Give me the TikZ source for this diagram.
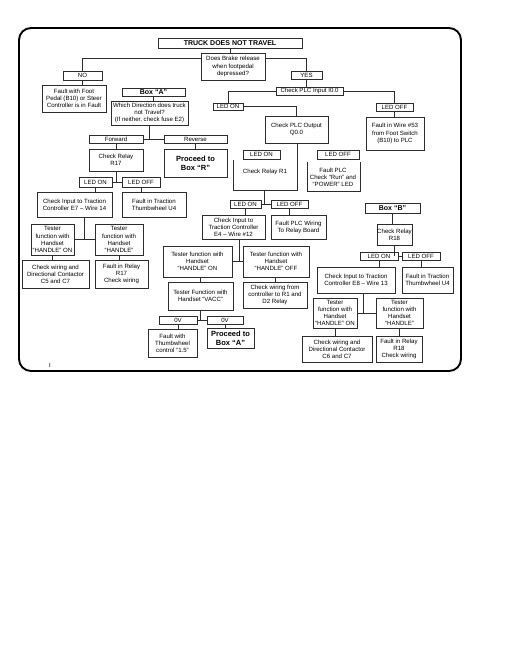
\documentclass[tikz,border=0pt]{standalone}
\usepackage{fontspec}
\setmainfont{Liberation Sans}
\definecolor{lc}{RGB}{45,45,45}
\tikzset{
  bx/.style={draw=lc, line width=0.75pt, inner sep=0pt, align=center, fill=white,
             font=\fontsize{6.1}{7.1}\selectfont},
  bt/.style={font=\bfseries\fontsize{7}{8.4}\selectfont},
  bp/.style={font=\bfseries\fontsize{7.5}{9}\selectfont},
  ln/.style={draw=lc, line width=0.75pt},
  tx/.style={inner sep=0pt, align=center, font=\fontsize{6.1}{7.1}\selectfont},
}
\newcommand\mybox[7][]{\node[bx,#1,minimum width={#5-#3},minimum height={#6-#4}] (#2) at ({(#3+#5)/2},{(#4+#6)/2}) {#7};}
\begin{document}
\begin{tikzpicture}[x=1pt,y=-1pt]
\useasboundingbox (0,0) rectangle (510,660);
% frame
\draw[line width=1.9pt, rounded corners=12pt] (19,28) rectangle (461,371);
\node[inner sep=0pt, font=\fontsize{6}{6}\selectfont] (mk) at (50,365) {I};

% top
\mybox[bt]{title}{158}{38}{302}{48}{TRUCK DOES NOT TRAVEL}
\mybox{dob}{201}{53}{265}{80}{Does Brake release\\when footpedal\\depressed?}
\mybox{no}{63}{71}{102}{80}{NO}
\mybox{ffp}{42}{85}{106}{112}{Fault with Foot\\Pedal (B10) or Steer\\Controller is in Fault}
\mybox{yes}{291}{71}{322}{79}{YES}
\mybox{cpi}{276}{87}{343}{95}{Check PLC Input I0.0}

% left column
\mybox[bt]{boxa}{122}{88}{185}{96}{Box “A”}
\mybox{wd}{111}{101}{188}{125}{Which Direction does truck\\not Travel?\\(If neither, check fuse E2)}
\mybox{fwd}{89}{135}{143}{143}{Forward}
\mybox{rev}{164}{135}{227}{143}{Reverse}
\mybox{r17}{89}{149}{143}{171}{Check Relay\\R17}
\mybox[bp]{pbr}{164}{149}{227}{177}{Proceed to\\Box “R”}
\mybox{lon1}{79}{177}{112}{187}{LED ON}
\mybox{loff1}{122}{177}{160}{187}{LED OFF}
\mybox{ci7}{37}{192}{112}{217}{Check Input to Traction\\Controller E7 – Wire 14}
\mybox{ftu1}{122}{192}{186}{217}{Fault in Traction\\Thumbwheel U4}
\mybox{th1}{31}{224}{74}{255}{Tester\\function with\\Handset\\“HANDLE” ON}
\mybox{th2}{95}{224}{143}{255}{Tester\\function with\\Handset\\“HANDLE”}
\mybox{cw1}{22}{260}{89}{288}{Check wiring and\\Directional Contactor\\C5 and C7}
\mybox{fr17}{95}{260}{148}{288}{Fault in Relay\\R17\\Check wiring}

% middle column
\mybox{ledon}{213}{103}{243}{110}{LED ON}
\mybox{ledoff}{376}{103}{413}{111}{LED OFF}
\mybox{fw53}{366}{117}{424}{150}{Fault in Wire \#53\\from Foot Switch\\(B10) to PLC}
\mybox{cpo}{265}{116}{328}{143}{Check PLC Output\\Q0.0}
\mybox{lon2}{243}{150}{280}{159}{LED ON}
\mybox{loff2}{317}{150}{359}{159}{LED OFF}
\node[tx] (r1t) at (265,172) {Check Relay R1};
\node[tx] (fpt) at (333,177) {Fault PLC\\Check “Run” and\\“POWER” LED};
\mybox{lon3}{230}{200}{261}{208}{LED ON}
\mybox{loff3}{271}{200}{308}{208}{LED OFF}
\mybox{ci4}{202}{215}{265}{239}{Check Input to\\Traction Controller\\E4 – Wire \#12}
\mybox{fplc}{271}{215}{326}{239}{Fault PLC Wiring\\To Relay Board}
\mybox{th3}{163}{246}{232}{277}{Tester function with\\Handset\\“HANDLE” ON}
\mybox{th4}{243}{246}{309}{277}{Tester function with\\Handset\\“HANDLE” OFF}
\mybox{vacc}{168}{282}{233}{310}{Tester Function with\\Handset “VACC”}
\mybox{cwr1}{243}{282}{307}{308}{Check wiring from\\controller to R1 and\\D2 Relay}
\mybox{ov1}{159}{316}{197}{324}{0V}
\mybox{ov2}{207}{316}{243}{324}{0V}
\mybox{ftc}{148}{329}{197}{357}{Fault with\\Thumbwheel\\control “1.5”}
\mybox[bp]{pba}{207}{328}{254}{348}{Proceed to\\Box “A”}

% right column
\mybox[bt]{boxb}{365}{203}{420}{213}{Box “B”}
\mybox{r18}{377}{224}{412}{245}{Check Relay\\R18}
\mybox{lon4}{360}{252}{398}{260}{LED ON}
\mybox{loff4}{402}{252}{440}{260}{LED OFF}
\mybox{ci8}{317}{267}{395}{293}{Check Input to Traction\\Controller E8 – Wire 13}
\mybox{ftu2}{402}{267}{453}{293}{Fault in Traction\\Thumbwheel U4}
\mybox{th5}{313}{298}{357}{328}{Tester\\function with\\Handset\\“HANDLE” ON}
\mybox{th6}{376}{298}{423}{328}{Tester\\function with\\Handset\\“HANDLE”}
\mybox{cw2}{302}{336}{372}{362}{Check wiring and\\Directional Contactor\\C6 and C7}
\mybox{fr18}{376}{336}{422}{362}{Fault in Relay\\R18\\Check wiring}

% helper coordinates
\coordinate (j58) at (0,58);
\coordinate (j7) at (84,0);
\coordinate (j4) at (239,0);
\coordinate (j8) at (363,0);
\coordinate (r1tl) at (233,160);
\coordinate (r1bl) at (233,190);
\coordinate (r1br) at (297,190);
\coordinate (r1m) at (264,190);
\coordinate (fptl) at (307,162);
\coordinate (fpbl) at (307,191);
\coordinate (fpbr) at (360,191);
\coordinate (fptr) at (360,162);

% connectors top
\draw[ln] (title.south) -- (title.south |- dob.north);
\draw[ln] (dob.west |- j58) -| (no.north);
\draw[ln] (dob.east |- j58) -| (yes.north);
\draw[ln] (no.south) -- (no.south |- ffp.north);
\draw[ln] (yes.south) -- (yes.south |- cpi.north);
\draw[ln] (cpi.west) -| (ledon.north);
\draw[ln] (cpi.east) -| (ledoff.north);
\draw[ln] (ledoff.south) -- (ledoff.south |- fw53.north);
\draw[ln] (ledon.east) -| (cpo.north);

% left column connectors
\draw[ln] (boxa.south) -- (boxa.south |- wd.north);
\draw[ln] (wd.south) -- (wd.south |- fwd.east);
\draw[ln] (fwd.east) -- (rev.west);
\draw[ln] (fwd.south) -- (fwd.south |- r17.north);
\draw[ln] (rev.south) -- (rev.south |- pbr.north);
\draw[ln] (r17.south) -- (r17.south |- lon1.east);
\draw[ln] (lon1.east) -- (loff1.west);
\draw[ln] (lon1.south) -- (lon1.south |- ci7.north);
\draw[ln] (loff1.south) -- (loff1.south |- ftu1.north);
\draw[ln] (ci7.south -| j7) -- (j7 |- th1.east);
\draw[ln] (th1.east) -- (th1.east -| th2.west);
\draw[ln] (th1.south) -- (th1.south |- cw1.north);
\draw[ln] (th2.south) -- (th2.south |- fr17.north);

% middle column connectors
\draw[ln] (r1tl) -- (r1bl) -- (r1br) -- (r1br |- cpo.south);
\draw[ln] (fptl) -- (fpbl) -- (fpbr) -- (fptr);
\draw[ln] (r1m) -- (r1m |- lon3.east);
\draw[ln] (lon3.east) -- (loff3.west);
\draw[ln] (lon3.south) -- (lon3.south |- ci4.north);
\draw[ln] (loff3.south) -- (loff3.south |- fplc.north);
\draw[ln] (ci4.south -| j4) -- (j4 |- th3.east);
\draw[ln] (th3.east) -- (th3.east -| th4.west);
\draw[ln] (vacc.north) -- (vacc.north |- th3.south);
\draw[ln] (cwr1.north) -- (cwr1.north |- th4.south);
\draw[ln] (vacc.south) -- (vacc.south |- ov1.east);
\draw[ln] (ov1.east) -- (ov2.west);
\draw[ln] (ov1.south) -- (ov1.south |- ftc.north);
\draw[ln] (ov2.south) -- (ov2.south |- pba.north);

% right column connectors
\draw[ln] (boxb.south) -- (boxb.south |- r18.north);
\draw[ln] (r18.south) -- (r18.south |- lon4.east);
\draw[ln] (lon4.east) -- (loff4.west);
\draw[ln] (lon4.south) -- (lon4.south |- ci8.north);
\draw[ln] (loff4.south) -- (loff4.south |- ftu2.north);
\draw[ln] (ci8.south -| j8) -- (j8 |- th5.east);
\draw[ln] (th5.east) -- (th5.east -| th6.west);
\draw[ln] (th5.south) -- (th5.south |- cw2.north);
\draw[ln] (th6.south) -- (th6.south |- fr18.north);
\end{tikzpicture}
\end{document}
